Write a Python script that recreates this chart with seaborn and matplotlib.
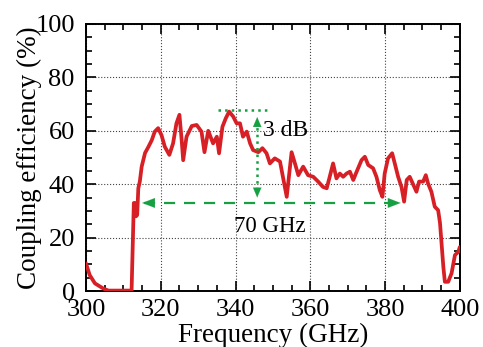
import numpy as np
import pandas as pd
import matplotlib
matplotlib.use("Agg")
import matplotlib.pyplot as plt
from matplotlib.ticker import MultipleLocator
import seaborn as sns

freq = [300, 301, 302.4, 304.6, 306, 312.2, 312.8, 313.1, 313.4, 313.7, 314.0, 314.4,
        314.9, 315.8, 316.7, 317.6, 318.4, 319.3, 320.2, 321.1, 322.3, 323.3, 324.2,
        325.0, 325.6, 326.0, 326.9, 328.3, 329.6, 330.9, 331.7, 332.7, 334.0, 335.0,
        335.6, 336.5, 337.4, 338.3, 339.4, 340.3, 341.2, 342.0, 343.0, 343.9, 344.7,
        346.1, 347.2, 348.3, 349.2, 350.5, 351.9, 353.7, 355.0, 355.9, 356.8, 358.1,
        359.4, 360.8, 362.1, 363.4, 364.4, 365.2, 366.1, 367.0, 367.9, 368.8, 369.7,
        370.6, 371.5, 372.4, 373.7, 374.6, 375.5, 376.8, 377.7, 378.6, 379.3, 379.9,
        380.8, 381.9, 382.6, 383.5, 384.4, 385.1, 385.8, 386.6, 388.4, 389.1, 390.2,
        390.9, 391.5, 392.4, 393.3, 394.2, 394.7, 395.6, 396.0, 396.9, 397.8, 398.7,
        399.6, 400]
eff = [10.4, 6.0, 2.9, 1.0, 0.2, 0.2, 33.0, 33.0, 28.0, 28.5, 38.5, 41.0,
       46.6, 51.7, 54.0, 56.5, 59.7, 61.0, 58.4, 54.0, 51.0, 55.3, 62.8,
       66.0, 56.5, 49.0, 57.8, 61.8, 62.2, 59.7, 52.0, 60.0, 55.3, 57.8,
       51.6, 61.5, 64.7, 67.2, 65.3, 62.8, 62.8, 57.8, 59.7, 55.3, 52.8,
       52.0, 53.5, 51.6, 47.8, 49.7, 48.5, 35.3, 52.0, 47.8, 43.4, 46.6,
       43.4, 42.8, 41.0, 39.0, 38.5, 42.8, 47.8, 42.2, 44.0, 42.8, 44.0,
       44.7, 41.6, 44.7, 49.0, 50.3, 47.2, 46.0, 42.8, 37.8, 35.3, 44.0,
       49.7, 51.6, 47.8, 42.8, 39.0, 33.5, 41.6, 42.8, 37.2, 41.0, 41.0,
       43.4, 40.3, 37.2, 31.6, 30.3, 25.5, 9.0, 3.5, 3.5, 6.7, 13.5,
       14.7, 16.5]

xticks = [300, 320, 340, 360, 380, 400]
yticks = [0, 20, 40, 60, 80, 100]

df = pd.DataFrame({"Frequency (GHz)": freq, "Coupling efficiency (%)": eff})

sns.set_style("ticks")
plt.rcParams["font.family"] = ["Liberation Serif", "DejaVu Serif"]
plt.rcParams["mathtext.fontset"] = "stix"
plt.rcParams["text.color"] = "black"
plt.rcParams["axes.labelcolor"] = "black"

red = "#d71f26"
green = "#17a043"

fig = plt.figure(figsize=(4.83, 3.47), dpi=100)
ax = fig.add_axes([0.178, 0.161, 0.774, 0.770])

sns.lineplot(data=df, x="Frequency (GHz)", y="Coupling efficiency (%)", sort=False,
             estimator=None, color=red, lw=2.7, ax=ax, zorder=3)

ax.set_xlim(300, 400)
ax.set_ylim(0, 100)
ax.set_xticks(xticks)
ax.set_yticks(yticks)
ax.xaxis.set_minor_locator(MultipleLocator(5))
ax.yaxis.set_minor_locator(MultipleLocator(5))
ax.tick_params(which="both", direction="in", top=True, right=True, width=1.2,
               labelsize=19, colors="black", labelcolor="black")
ax.tick_params(which="major", length=7)
ax.tick_params(axis="x", which="major", pad=6)
ax.tick_params(axis="y", which="major", pad=8)
ax.tick_params(which="minor", length=4)
for s in ax.spines.values():
    s.set_linewidth(1.4)
    s.set_color("black")
ax.grid(True, which="major", linestyle=":", color="#444444", lw=0.8)
ax.set_xlabel("Frequency (GHz)", fontsize=19.5, labelpad=1, color="black")
ax.set_ylabel("Coupling efficiency (%)", fontsize=19.5, labelpad=-5, color="black")

# 70 GHz dashed double arrow
y70 = 33.0
ax.plot([315.5, 383.5], [y70, y70], ls=(0, (5, 4)), color=green, lw=1.6, zorder=4)
ax.annotate("", xy=(314.3, y70), xytext=(317.5, y70),
            arrowprops=dict(arrowstyle="-|>,head_length=0.9,head_width=0.35",
                            color=green, lw=0.1), zorder=5)
ax.annotate("", xy=(384.9, y70), xytext=(381.7, y70),
            arrowprops=dict(arrowstyle="-|>,head_length=0.9,head_width=0.35",
                            color=green, lw=0.1), zorder=5)
ax.text(349.3, 24.2, "70 GHz", fontsize=16.5, ha="center", va="center",
        color="black", zorder=5)

# 3 dB dotted arrow
xv = 345.8
ax.plot([335.3, 348.7], [67.8, 67.8], ls=":", color=green, lw=1.8, zorder=4)
ax.plot([xv, xv], [63.5, 37.0], ls=":", color=green, lw=1.8, zorder=4)
ax.annotate("", xy=(xv, 66.2), xytext=(xv, 62.5),
            arrowprops=dict(arrowstyle="-|>,head_length=0.7,head_width=0.3",
                            color=green, lw=0.1), zorder=5)
ax.annotate("", xy=(xv, 34.0), xytext=(xv, 37.7),
            arrowprops=dict(arrowstyle="-|>,head_length=0.7,head_width=0.3",
                            color=green, lw=0.1), zorder=5)
ax.text(347.3, 60.3, "3 dB", fontsize=17, ha="left", va="center",
        color="black", zorder=5)

fig.savefig("out.png", dpi=100)
